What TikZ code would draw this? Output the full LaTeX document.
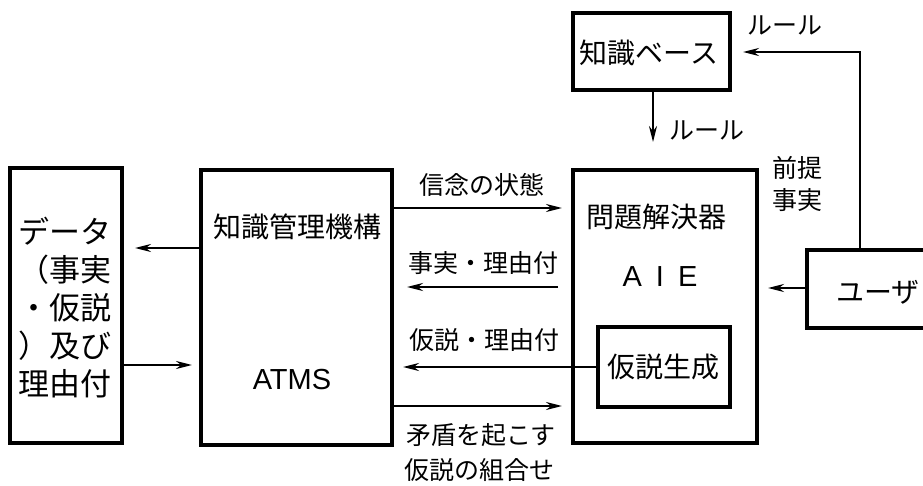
\documentclass[tikz,border=0pt]{standalone}
\usepackage{fontspec}
\setmainfont{Noto Sans CJK JP}
\newfontfamily\latinsans{Liberation Sans}
\usetikzlibrary{arrows.meta}
\begin{document}
\begin{tikzpicture}[x=1pt,y=-1pt,
  box/.style={draw,line width=3.2pt,inner sep=0pt},
  conn/.style={line width=2.2pt,-{Stealth[length=16pt,width=8pt]}},
  lbl/.style={font=\fontsize{25}{30}\selectfont,inner sep=0pt},
  btxt/.style={font=\fontsize{28}{34}\selectfont,inner sep=0pt},
  ltxt/.style={font=\latinsans\fontsize{29}{34}\selectfont,inner sep=0pt}]
\clip (0,0) rectangle (923,486);
\fill[white] (0,0) rectangle (923,486);

% boxes
\node[box,minimum width=112pt,minimum height=275pt] (data) at (66,305.5) {};
\node[box,minimum width=191pt,minimum height=275pt] (km) at (296.5,307.5) {};
\node[box,minimum width=157pt,minimum height=77pt] (kb) at (651.5,51.5) {};
\node[box,minimum width=184pt,minimum height=273pt] (ps) at (665,306.5) {};
\node[box,minimum width=132pt,minimum height=80pt] (hg) at (664,367) {};
\node[box,minimum width=160pt,minimum height=78pt] (user) at (887,289) {};

% box texts
\node[inner sep=0pt,align=center,font=\fontsize{31}{38}\selectfont] (datatxt) at (65,308)
  {データ\\（事実\\・仮説\\）及び\\理由付};
\node[btxt] (kmtxt) at (297,227) {知識管理機構};
\node[ltxt] (atms) at (292,380) {ATMS};
\node[btxt] (kbtxt) at (649,53) {知識ベース};
\node[btxt] (pstxt) at (656,217) {問題解決器};
\node[ltxt] (aie) at (660,277) {A\hspace{14pt}I\hspace{14pt}E};
\node[btxt] (hgtxt) at (663,367) {仮説生成};
\node[btxt,anchor=west] (usertxt) at (836,292) {ユーザ};

% connectors
\draw[conn] (km.west |- 0,248) -- (135,248);
\draw[conn] (data.east |- 0,365) -- (192,365);
\draw[conn] (km.east |- 0,208) -- (562,208);
\draw[conn] (558,287) -- (407,287);
\draw[conn] (hg.west) -- (403,367);
\draw[conn] (km.east |- 0,406) -- (562,406);
\draw[conn] (kb.south -| 653,0) -- (653,142);
\draw[conn] (user.west |- 0,288) -- (768,288);
\coordinate (corner) at (860,52);
\draw[conn] (user.north -| 860,0) -- (corner) -- (743,52);

% labels
\node[lbl] (l1) at (482,185) {信念の状態};
\node[lbl] (l2) at (483,263) {事実・理由付};
\node[lbl] (l3) at (484,340) {仮説・理由付};
\node[lbl] (l4) at (481,435) {矛盾を起こす};
\node[lbl] (l5) at (479,470) {仮説の組合せ};
\node[lbl] (l6) at (707,130) {ルール};
\node[lbl] (l7) at (785,25) {ルール};
\node[lbl] (l8) at (797,168) {前提};
\node[lbl] (l9) at (797,200) {事実};
\end{tikzpicture}
\end{document}
